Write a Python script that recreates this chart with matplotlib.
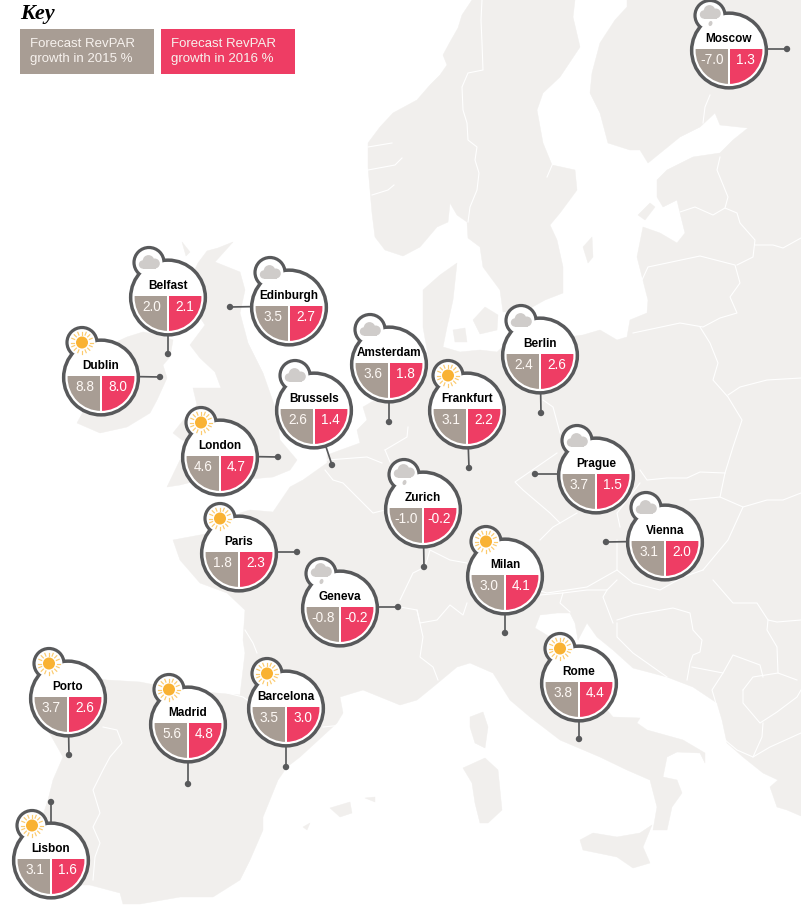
import numpy as np
import matplotlib
matplotlib.use("Agg")
import matplotlib.pyplot as plt
from matplotlib.patches import Circle, Rectangle, Polygon, Ellipse

# ---- chart values ----
cities = ["Moscow", "Belfast", "Edinburgh", "Dublin", "Amsterdam", "Berlin", "Brussels", "Frankfurt",
          "London", "Prague", "Zurich", "Vienna", "Paris", "Milan", "Geneva", "Rome",
          "Barcelona", "Porto", "Madrid", "Lisbon"]
growth_2015 = ["-7.0", "2.0", "3.5", "8.8", "3.6", "2.4", "2.6", "3.1", "4.6", "3.7",
               "-1.0", "3.1", "1.8", "3.0", "-0.8", "3.8", "3.5", "3.7", "5.6", "3.1"]
growth_2016 = ["1.3", "2.1", "2.7", "8.0", "1.8", "2.6", "1.4", "2.2", "4.7", "1.5",
               "-0.2", "2.0", "2.3", "4.1", "-0.2", "4.4", "3.0", "2.6", "4.8", "1.6"]
weather = ["rain", "cloud", "cloud", "sun", "cloud", "cloud", "cloud", "sun", "sun", "cloud",
           "rain", "cloud", "sun", "sun", "rain", "sun", "sun", "sun", "sun", "sun"]
key_labels = ["Forecast RevPAR\ngrowth in 2015 %", "Forecast RevPAR\ngrowth in 2016 %"]

# ---- layout on the map (pixels) ----
bubble_x = [729, 168, 289, 101, 389, 540, 314, 467, 220, 596, 423, 665, 239, 505, 340, 579, 286, 68, 188, 51]
bubble_y = [49, 296, 306, 376, 363, 354, 409, 409, 456, 474, 508, 541, 552, 575, 607, 682, 707, 697, 723, 859]
dot_x = [787, 168, 230, 160, 389, 541, 332, 469, 278, 535, 424, 606, 297, 505, 398, 579, 286, 69, 188, 51]
dot_y = [49, 354, 307, 377, 422, 413, 465, 468, 457, 474, 567, 542, 552, 633, 607, 739, 767, 755, 784, 802]

# ---- background geography (pixels) ----
scandinavia = [(472,0),(462,15),(458,28),(450,42),(443,55),(447,65),(440,75),(430,85),(417,100),(393,113),(380,127),
               (368,143),(368,167),(370,190),(372,213),(375,237),(385,250),(403,256),(420,247),(437,227),(448,222),
               (450,203),(457,215),(467,222),(468,238),(480,247),(483,267),(500,290),(503,312),(527,310),(545,300),
               (563,293),(563,267),(557,240),(550,225),(560,213),(577,190),(575,170),(552,165),(543,143),(537,110),
               (543,93),(560,77),(580,47),(573,17),(575,0)]
mainland = [(627,0),(627,7),(615,20),(600,43),(592,73),(590,93),(600,113),(608,143),(630,150),(640,150),(648,163),
            (680,137),(700,127),(715,113),(720,125),(748,128),(733,140),(720,153),(693,157),(667,170),(657,180),
            (657,197),(663,207),(677,200),(680,213),(685,233),(677,243),(660,233),(643,227),(637,257),(648,300),
            (647,313),(630,320),(627,337),(617,340),(600,330),(583,335),(560,338),(525,335),(505,345),(497,352),
            (480,350),(460,352),(443,347),(447,327),(453,300),(457,263),(440,275),(423,290),(423,327),(428,355),
            (418,375),(395,390),(375,400),(363,407),(367,420),(357,430),(360,443),(327,455),(327,463),(303,480),
            (290,487),(273,512),(250,510),(240,513),(228,530),(200,535),(173,540),(180,560),(200,583),(227,593),
            (245,610),(243,640),(245,653),(240,695),(180,690),(140,682),(107,680),(90,678),(40,685),(45,725),
            (63,757),(53,780),(48,800),(38,830),(50,860),(60,885),(90,885),(120,893),(123,904),(140,904),(180,897),
            (213,897),(240,880),(250,860),(263,830),(263,817),(278,780),(287,767),(300,757),(337,723),(343,713),
            (340,697),(353,693),(363,690),(400,705),(417,700),(433,687),(457,667),(470,663),(493,673),(510,700),
            (530,717),(560,740),(600,757),(627,770),(650,780),(657,807),(653,830),(667,830),(672,807),(682,793),
            (677,780),(663,777),(667,757),(677,752),(700,753),(705,763),(705,753),(683,740),(647,730),(637,723),
            (640,718),(613,717),(590,690),(570,655),(550,637),(535,628),(540,615),(557,613),(570,613),(575,623),
            (578,640),(587,623),(597,637),(613,650),(633,668),(667,677),(693,687),(717,703),(722,720),(727,743),
            (743,757),(763,773),(778,780),(770,787),(777,807),(787,810),(801,816),(801,0)]
britain = [(233,242),(218,248),(207,251),(198,263),(190,280),(195,310),(205,325),(190,345),(200,358),(215,372),
           (221,388),(193,388),(197,405),(185,418),(173,433),(182,440),(200,442),(180,460),(167,487),(180,485),
           (200,480),(240,480),(273,477),(290,470),(297,460),(280,440),(277,413),(263,373),(248,343),(240,313),
           (245,290),(240,272),(215,262)]
ireland = [(127,337),(143,332),(160,335),(173,340),(170,357),(163,365),(167,378),(157,400),(150,413),(127,427),
           (100,433),(77,423),(83,412),(75,390),(90,360),(110,345)]
islands = [[(583,247),(592,237),(593,257),(588,263)],
           [(638,215),(650,203),(655,207),(645,220)],
           [(473,320),(485,307),(498,315),(497,330),(480,334)],
           [(453,330),(465,328),(467,342),(455,342)],
           [(463,768),(485,758),(498,770),(502,810),(488,823),(480,823),(475,803),(472,783)],
           [(470,717),(483,712),(488,727),(485,748),(475,743),(470,727)],
           [(580,840),(593,833),(617,837),(640,833),(652,825),(643,847),(650,863),(633,868),(617,857),(583,850)],
           [(330,808),(350,802),(352,813),(340,817)],
           [(365,798),(375,797),(375,802)],
           [(303,827),(310,823),(307,830)],
           [(182,242),(190,252),(186,256)]]
borders = [[(482,0),(481,20),(482,43),(483,70),(468,73),(462,87),(463,110),(467,123),(468,140),(477,147),(475,160),
            (479,173),(477,190),(470,207),(468,222)],
           [(710,95),(705,107),(703,123)],
           [(720,157),(717,170),(728,197),(725,208)],
           [(680,212),(695,207),(713,215),(725,208),(737,213),(740,223),(755,240),(753,257),(737,265)],
           [(755,245),(773,245),(783,248),(801,238)],
           [(642,280),(648,267),(700,256),(735,265),(740,283),(730,297),(737,313),(720,318),(703,327),(680,323),(633,333)],
           [(700,327),(710,343),(718,363),(713,380),(728,397),(742,420),(733,447),(725,473),(720,497)],
           [(728,395),(740,387),(767,380),(801,378)],
           [(725,473),(700,472),(687,478),(667,478),(647,480),(640,470)],
           [(543,400),(553,407),(560,433)],
           [(557,453),(515,482),(523,490),(550,513),(560,523),(577,513)],
           [(560,523),(553,527),(540,540)],
           [(640,483),(617,513),(620,527)],
           [(690,500),(720,497),(743,507),(767,500),(783,500),(801,493)],
           [(743,507),(728,540),(703,570)],
           [(617,540),(617,570),(587,587),(547,593),(527,587)],
           [(617,570),(633,583),(660,590),(683,577),(703,570)],
           [(617,620),(633,615),(673,608),(690,613),(693,630),(702,640),(700,652),(693,655),(690,663),(687,680)],
           [(617,623),(617,637),(633,653),(667,677)],
           [(713,580),(733,603),(757,603),(768,620),(777,622),(801,620)],
           [(768,620),(767,630),(777,647),(778,673),(797,680)],
           [(743,690),(753,677),(778,673)],
           [(743,690),(743,703),(760,723),(777,712),(797,697),(801,690)],
           [(692,667),(723,673),(733,655),(760,665),(763,677)],
           [(723,673),(712,690),(715,700),(725,740),(737,750),(753,757),(762,737),(763,723)],
           [(753,757),(770,747),(801,733)],
           [(400,607),(417,610),(420,623),(437,620),(450,605),(463,615),(467,603)],
           [(540,595),(563,593),(560,603),(570,612)],
           [(563,593),(587,590),(607,590),(617,580)],
           [(607,590),(603,597),(613,623)],
           [(417,610),(423,637),(420,657),(433,667),(438,680)],
           [(325,470),(333,480),(343,483),(360,500),(373,513),(385,510)],
           [(327,460),(367,457),(382,463)],
           [(385,450),(407,437),(408,427)],
           [(385,450),(390,462)],
           [(400,600),(413,573),(425,567),(430,550),(450,560),(467,563)],
           [(227,693),(243,697),(257,707)],
           [(323,727),(343,725)],
           [(103,727),(117,730),(122,743),(110,757),(103,770),(93,790),(100,813),(93,827),(100,843),(95,857),(93,880)],
           [(245,630),(253,643),(257,653)],
           [(368,147),(392,143)],[(368,170),(395,165),(402,158)],[(372,195),(388,190),(394,185)],
           [(547,177),(553,163)]]

# ---- styles ----
LAND = "#f1efed"
GREY = "#a89d94"
PINK = "#ee3d64"
RING = "#58595b"
CLOUD = "#cfcccA"
SUN = "#f9b233"
PX = 0.72
NAME_FONT = "Liberation Sans"

fig = plt.figure(figsize=(8.01, 9.06), dpi=100)
ax = fig.add_axes([0, 0, 1, 1])
ax.set_xlim(0, 801)
ax.set_ylim(906, 0)
ax.axis("off")

for shape in [scandinavia, mainland, britain, ireland] + islands:
    ax.add_patch(Polygon(shape, closed=True, fc=LAND, ec=LAND, lw=0.3, zorder=1))
for line in borders:
    xs, ys = zip(*line)
    ax.plot(xs, ys, color="white", lw=1.1 * PX, solid_joinstyle="round", zorder=2)


def draw_sun(x, y, z):
    ax.add_patch(Circle((x, y), 6.0, fc=SUN, ec="none", zorder=z))
    for a in np.linspace(0, 2 * np.pi, 16, endpoint=False):
        ax.plot([x + 8.0 * np.cos(a), x + 11.0 * np.cos(a)],
                [y + 8.0 * np.sin(a), y + 11.0 * np.sin(a)],
                color="#fccb6e", lw=1.2 * PX, zorder=z)


def draw_cloud(x, y, z, rain=False):
    if rain:
        y -= 3
    for dx, dy, r in [(-6.0, 2.0, 4.2), (-0.5, -1.6, 5.8), (5.8, 1.0, 5.0)]:
        ax.add_patch(Circle((x + dx, y + dy), r, fc=CLOUD, ec="none", zorder=z))
    ax.add_patch(Rectangle((x - 6.5, y + 0.5), 13, 5.8, fc=CLOUD, ec="none", zorder=z))
    if rain:
        ax.add_patch(Ellipse((x + 0.5, y + 11), 3.8, 5.2, angle=20, fc=CLOUD, ec="none", zorder=z))


for i, name in enumerate(cities):
    cx, split = bubble_x[i], bubble_y[i]
    cy = split + 1.5
    lx, ly = cx - 19, cy - 35
    # leader and dot
    ax.plot([cx, dot_x[i]], [split if dot_x[i] != cx and abs(dot_y[i] - split) < 10 else cy, dot_y[i]],
            color=RING, lw=1.7 * PX, zorder=3)
    ax.add_patch(Circle((dot_x[i], dot_y[i]), 3.2, fc=RING, ec="none", zorder=3))
    # outline of lobe and body
    ax.add_patch(Circle((lx, ly), 14.6, fc=RING, ec=RING, lw=4.0 * PX, zorder=4))
    ax.add_patch(Circle((cx, cy), 36.8, fc=RING, ec=RING, lw=4.6 * PX, zorder=4))
    ax.add_patch(Circle((lx, ly), 13.4, fc="white", ec="none", zorder=5))
    ax.add_patch(Circle((cx, cy), 35.6, fc="white", ec="none", zorder=5))
    # the two value segments
    clip = Circle((cx, cy), 33.4, transform=ax.transData)
    left = Rectangle((cx - 40, split), 39.4, 42, fc=GREY, ec="none", zorder=6)
    right = Rectangle((cx + 0.6, split), 39.4, 42, fc=PINK, ec="none", zorder=6)
    ax.add_patch(left)
    ax.add_patch(right)
    left.set_clip_path(clip)
    right.set_clip_path(clip)
    # icon
    if weather[i] == "sun":
        draw_sun(lx, ly, 7)
    else:
        draw_cloud(lx, ly, 7, rain=weather[i] == "rain")
    # text
    ax.text(cx, split - 10, name, ha="center", va="center", fontsize=8.5, fontweight="bold",
            family=NAME_FONT, color="black", zorder=8)
    ax.text(cx - 16.5, split + 11, growth_2015[i], ha="center", va="center", fontsize=9.8,
            family=NAME_FONT, color="#fdf8f4", zorder=8)
    ax.text(cx + 16.5, split + 11, growth_2016[i], ha="center", va="center", fontsize=9.8,
            family=NAME_FONT, color="white", zorder=8)

# ---- key ----
ax.text(20, 13.5, "Key", ha="left", va="center", fontsize=16, family="Liberation Serif",
        fontweight="bold", fontstyle="italic", color="black", zorder=9)
for x0, colour, label in zip([20, 161], [GREY, PINK], key_labels):
    ax.add_patch(Rectangle((x0, 29), 134, 45, fc=colour, ec="none", zorder=9))
    ax.text(x0 + 10, 51.5, label, ha="left", va="center", fontsize=9.5, family=NAME_FONT,
            color="#f7f2ee", linespacing=1.36, zorder=10)

fig.savefig("out.png", dpi=100)
